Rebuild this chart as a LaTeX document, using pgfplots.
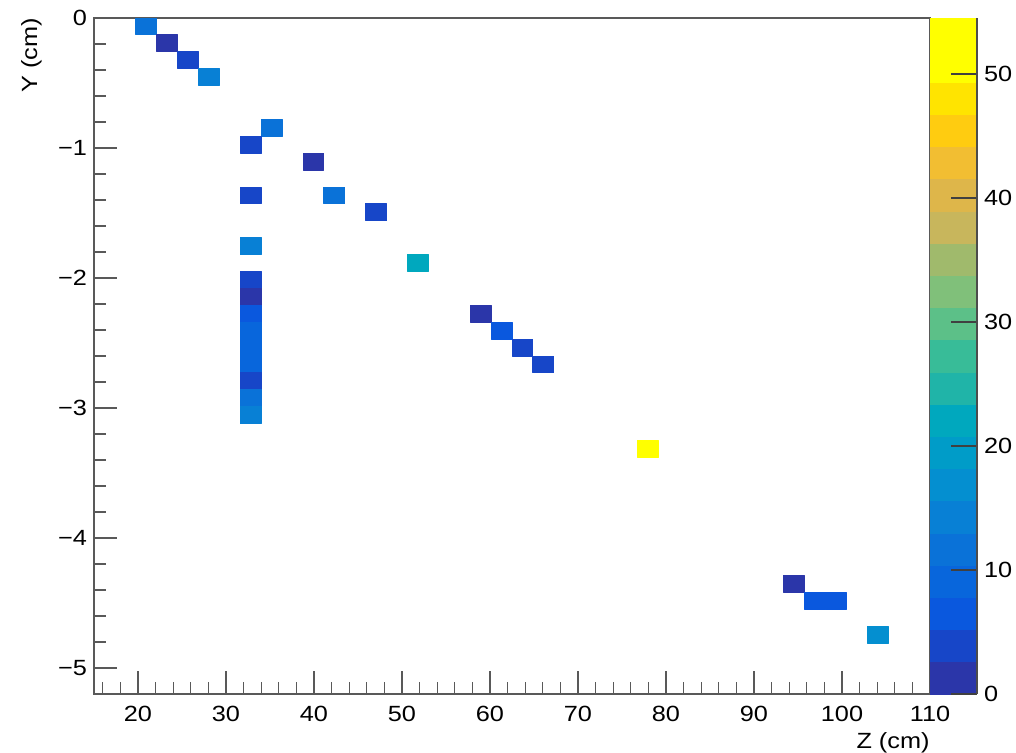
\documentclass[border=0pt]{standalone}
\usepackage{fontspec}
\setmainfont{Liberation Sans}[FakeStretch=1.15]
\usepackage{pgfplots}
\pgfplotsset{compat=1.18}
\usepgfplotslibrary{patchplots}

\begin{document}
\begin{tikzpicture}
\useasboundingbox (0,0) rectangle (508pt,376.5pt);
\begin{axis}[
  at={(47pt,29.5pt)}, anchor=south west,
  scale only axis, width=418pt, height=338pt,
  xmin=15, xmax=110, ymin=-5.2, ymax=0,
  axis line style={black!65, line width=0.6pt},
  every tick/.style={black!65, line width=0.6pt},
  tick align=inside, xtick pos=bottom, ytick pos=left,
  major tick length=11.5pt, minor tick length=5.8pt,
  xtick={20,30,40,50,60,70,80,90,100,110},
  xticklabels={20,30,40,50,60,70,80,90,100,110},
  minor xtick={16,18,22,24,26,28,32,34,36,38,42,44,46,48,52,54,56,58,62,64,66,68,72,74,76,78,82,84,86,88,92,94,96,98,102,104,106,108},
  ytick={-5,-4,-3,-2,-1,0},
  yticklabels={−5,−4,−3,−2,−1,0},
  minor ytick={-4.8,-4.6,-4.4,-4.2,-3.8,-3.6,-3.4,-3.2,-2.8,-2.6,-2.4,-2.2,-1.8,-1.6,-1.4,-1.2,-0.8,-0.6,-0.4,-0.2},
  tick label style={font=\fontsize{11}{13}\selectfont},
  xticklabel style={yshift=-2.3pt},
  label style={font=\fontsize{11}{13}\selectfont},
  xlabel={Z (cm)},
  xlabel style={at={(axis description cs:1,0)}, anchor=north east, inner sep=0pt, yshift=-19pt},
  ylabel={Y (cm)},
  ylabel style={at={([xshift=-26pt]axis description cs:0,1)}, anchor=south east, inner sep=0pt},
  colormap={rootbird}{
    rgb255=(43,54,169) rgb255=(23,70,200) rgb255=(10,88,222) rgb255=(8,102,220)
    rgb255=(10,114,216) rgb255=(8,128,213) rgb255=(4,143,208) rgb255=(0,156,200)
    rgb255=(0,168,190) rgb255=(32,180,168) rgb255=(56,188,152) rgb255=(92,192,136)
    rgb255=(128,192,122) rgb255=(160,186,108) rgb255=(200,182,92) rgb255=(222,182,74)
    rgb255=(242,190,50) rgb255=(255,204,16) rgb255=(255,228,0) rgb255=(255,255,0)
    rgb255=(255,255,0)},
  colormap access=piecewise constant,
  point meta min=0, point meta max=54.5,
  colorbar,
  colorbar style={
    at={(1,1)}, anchor=north west, xshift=1.5pt, width=23.5pt,
    axis x line=none, axis y line*=right,
    axis line style={black!70, line width=0.6pt},
    ytick={0,10,20,30,40,50}, yticklabels={0,10,20,30,40,50},
    tick align=inside, major tick length=13pt,
    every tick/.style={black!75, line width=0.8pt},
    yticklabel style={font=\fontsize{11}{13}\selectfont},
  },
]
\addplot[patch, patch type=rectangle, shader=flat, draw=none, point meta=explicit]
coordinates {
% top diagonal
(19.75,-0.13) [12.26] (22.125,-0.13) [12.26] (22.125,0) [12.26] (19.75,0) [12.26]
(22.125,-0.26) [1.36] (24.5,-0.26) [1.36] (24.5,-0.13) [1.36] (22.125,-0.13) [1.36]
(24.5,-0.39) [4.09] (26.875,-0.39) [4.09] (26.875,-0.26) [4.09] (24.5,-0.26) [4.09]
(26.875,-0.52) [14.99] (29.25,-0.52) [14.99] (29.25,-0.39) [14.99] (26.875,-0.39) [14.99]
(34,-0.91) [12.26] (36.375,-0.91) [12.26] (36.375,-0.78) [12.26] (34,-0.78) [12.26]
(31.625,-1.04) [4.09] (34,-1.04) [4.09] (34,-0.91) [4.09] (31.625,-0.91) [4.09]
(38.75,-1.17) [1.36] (41.125,-1.17) [1.36] (41.125,-1.04) [1.36] (38.75,-1.04) [1.36]
(31.625,-1.43) [4.09] (34,-1.43) [4.09] (34,-1.30) [4.09] (31.625,-1.30) [4.09]
(41.125,-1.43) [12.26] (43.5,-1.43) [12.26] (43.5,-1.30) [12.26] (41.125,-1.30) [12.26]
(45.875,-1.56) [4.09] (48.25,-1.56) [4.09] (48.25,-1.43) [4.09] (45.875,-1.43) [4.09]
(31.625,-1.82) [14.99] (34,-1.82) [14.99] (34,-1.69) [14.99] (31.625,-1.69) [14.99]
(50.625,-1.95) [22.0] (53,-1.95) [22.0] (53,-1.82) [22.0] (50.625,-1.82) [22.0]
% vertical column
(31.625,-2.08) [4.09] (34,-2.08) [4.09] (34,-1.95) [4.09] (31.625,-1.95) [4.09]
(31.625,-2.21) [1.36] (34,-2.21) [1.36] (34,-2.08) [1.36] (31.625,-2.08) [1.36]
(31.625,-2.34) [6.81] (34,-2.34) [6.81] (34,-2.21) [6.81] (31.625,-2.21) [6.81]
(31.625,-2.47) [9.54] (34,-2.47) [9.54] (34,-2.34) [9.54] (31.625,-2.34) [9.54]
(31.625,-2.60) [9.54] (34,-2.60) [9.54] (34,-2.47) [9.54] (31.625,-2.47) [9.54]
(31.625,-2.73) [9.54] (34,-2.73) [9.54] (34,-2.60) [9.54] (31.625,-2.60) [9.54]
(31.625,-2.86) [5.0] (34,-2.86) [5.0] (34,-2.73) [5.0] (31.625,-2.73) [5.0]
(31.625,-2.99) [10.5] (34,-2.99) [10.5] (34,-2.86) [10.5] (31.625,-2.86) [10.5]
(31.625,-3.12) [13.0] (34,-3.12) [13.0] (34,-2.99) [13.0] (31.625,-2.99) [13.0]
% middle diagonal
(57.75,-2.34) [1.36] (60.125,-2.34) [1.36] (60.125,-2.21) [1.36] (57.75,-2.21) [1.36]
(60.125,-2.47) [6.81] (62.5,-2.47) [6.81] (62.5,-2.34) [6.81] (60.125,-2.34) [6.81]
(62.5,-2.60) [4.09] (64.875,-2.60) [4.09] (64.875,-2.47) [4.09] (62.5,-2.47) [4.09]
(64.875,-2.73) [4.09] (67.25,-2.73) [4.09] (67.25,-2.60) [4.09] (64.875,-2.60) [4.09]
(76.75,-3.38) [54.5] (79.125,-3.38) [54.5] (79.125,-3.25) [54.5] (76.75,-3.25) [54.5]
% lower right
(93.375,-4.42) [1.36] (95.75,-4.42) [1.36] (95.75,-4.29) [1.36] (93.375,-4.29) [1.36]
(95.75,-4.55) [6.81] (98.125,-4.55) [6.81] (98.125,-4.42) [6.81] (95.75,-4.42) [6.81]
(98.125,-4.55) [6.81] (100.5,-4.55) [6.81] (100.5,-4.42) [6.81] (98.125,-4.42) [6.81]
(102.875,-4.81) [18.0] (105.25,-4.81) [18.0] (105.25,-4.68) [18.0] (102.875,-4.68) [18.0]
};
\end{axis}
\end{tikzpicture}
\end{document}
